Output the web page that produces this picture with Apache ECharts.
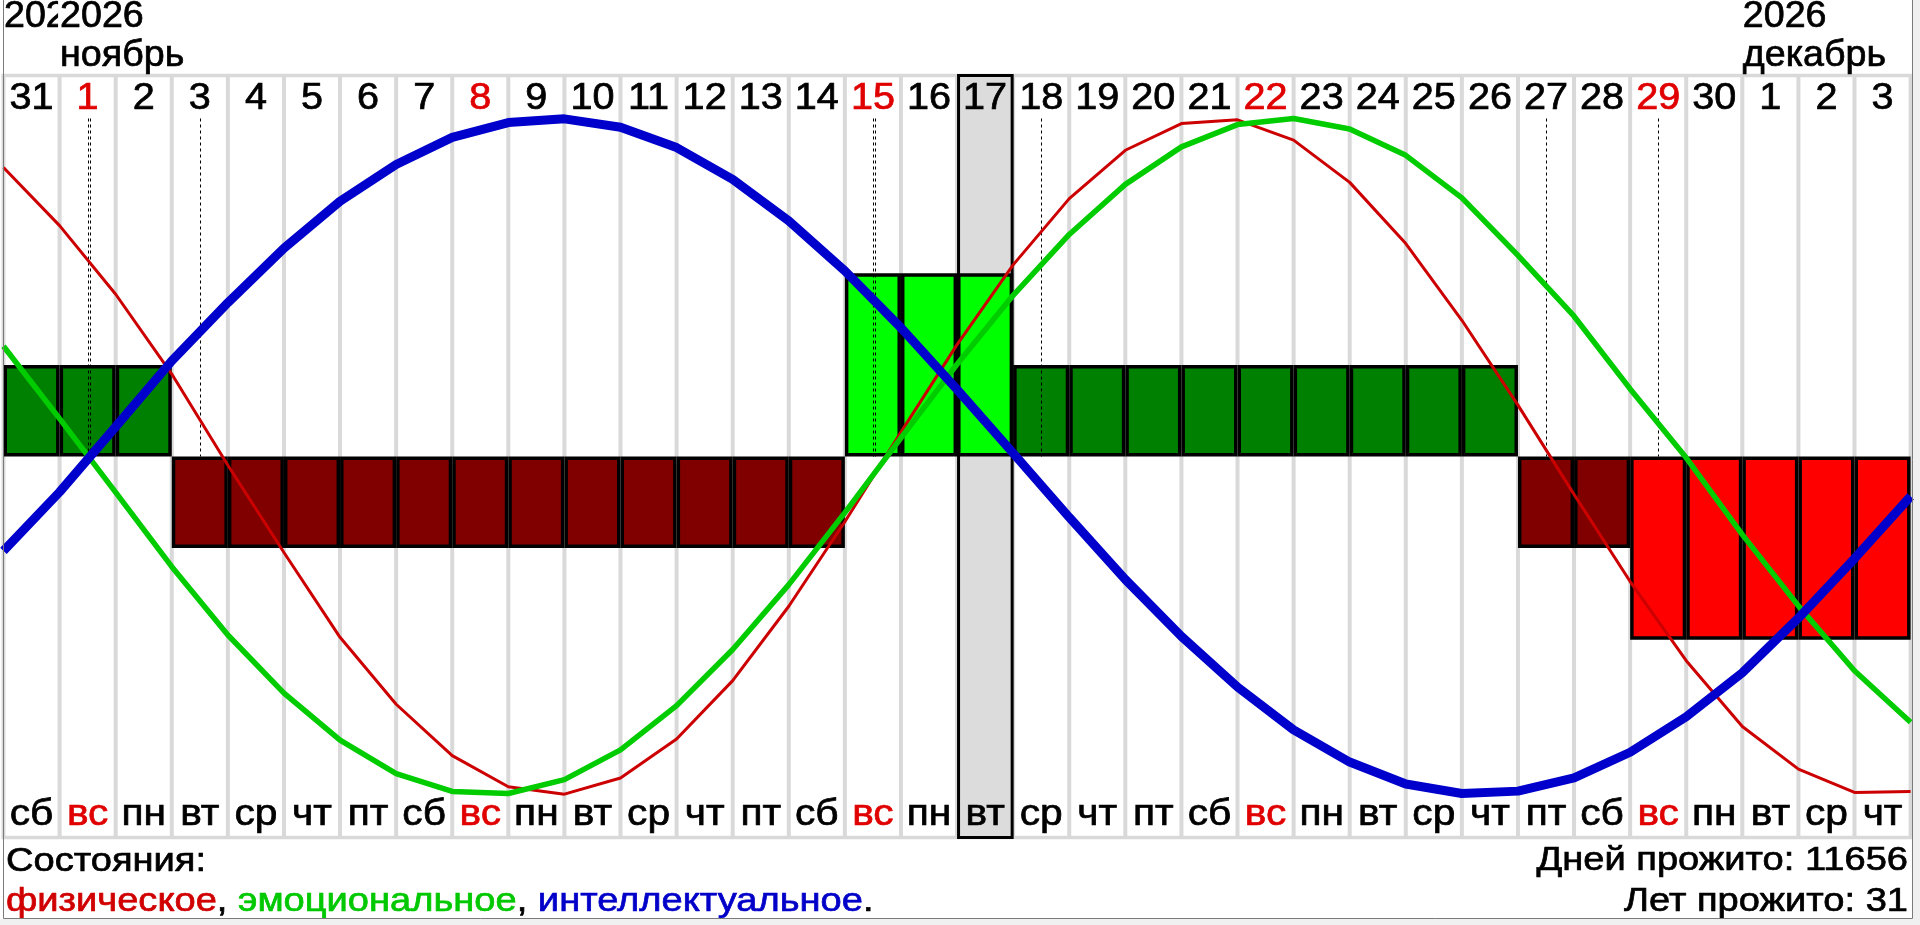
<!DOCTYPE html>
<html>
<head>
<meta charset="utf-8">
<script src="https://cdn.jsdelivr.net/npm/echarts@6/dist/echarts.min.js"></script>
<style>
html,body{margin:0;padding:0;background:#f0f0f0;overflow:hidden}
#c{width:1920px;height:925px}
</style>
</head>
<body>
<div id="c"></div>
<script>
// ---------- data ----------
const dayNumbers = ['31','1','2','3','4','5','6','7','8','9','10','11','12','13','14','15','16','17','18','19','20','21','22','23','24','25','26','27','28','29','30','1','2','3'];
const weekDays = ['сб','вс','пн','вт','ср','чт','пт','сб','вс','пн','вт','ср','чт','пт','сб','вс','пн','вт','ср','чт','пт','сб','вс','пн','вт','ср','чт','пт','сб','вс','пн','вт','ср','чт'];
// state level of each day (bars)
const states = [1,1,1,-1,-1,-1,-1,-1,-1,-1,-1,-1,-1,-1,-1,2,2,2,1,1,1,1,1,1,1,1,1,-1,-1,-2,-2,-2,-2,-2];
// curve values at day boundaries 0..34
const physical = [0.855,0.683,0.480,0.244,-0.026,-0.284,-0.535,-0.733,-0.885,-0.977,-0.999,-0.951,-0.836,-0.663,-0.443,-0.193,0.072,0.331,0.567,0.763,0.906,0.985,0.996,0.936,0.811,0.630,0.403,0.152,-0.112,-0.370,-0.604,-0.799,-0.925,-0.994,-0.991];
const emotional = [0.326,0.112,-0.106,-0.326,-0.528,-0.700,-0.839,-0.938,-0.991,-0.997,-0.956,-0.868,-0.737,-0.571,-0.379,-0.166,0.055,0.273,0.477,0.657,0.805,0.916,0.982,1.000,0.969,0.891,0.765,0.595,0.415,0.200,-0.004,-0.231,-0.442,-0.634,-0.786];
const intellectual = [-0.279,-0.105,0.088,0.283,0.455,0.616,0.755,0.864,0.944,0.988,0.999,0.974,0.914,0.820,0.697,0.549,0.381,0.198,0.010,-0.180,-0.364,-0.532,-0.682,-0.809,-0.904,-0.969,-0.997,-0.990,-0.951,-0.875,-0.770,-0.640,-0.478,-0.302,-0.118];
const criticalDays = [1,3,15,18,27,29];
const criticalCounts = [2,1,2,1,1,1];
const todayIndex = 17;
const headerCols = [0,1,31];
const headerYears = ['2026','2026','2026'];
const headerMonths = ['','ноябрь','декабрь'];
const legendTitle = 'Состояния:';
const rhythmNames = ['физическое','эмоциональное','интеллектуальное'];
const daysLived = 11656;
const yearsLived = 31;

// ---------- style / layout ----------
const FONT = '"Liberation Sans", Arial, sans-serif';
const N = dayNumbers.length;
const CURVE_EXT = 1.1272;
const BAR_EXT = 4.159;
const GRID_GRAY = '#d9d9d9';
const SUN_RED = '#e00000';
const LINE_COLORS = ['#cc0000','#00cc00','#0000cc'];
const TEXT_COLORS = ['#d00000','#00c800','#0000c8'];
const STATE_COLORS = {'2':'#00ff00','1':'#008000','-1':'#800000','-2':'#ff0000'};
const PANEL_W = 1913, PANEL_H = 919;
const F_NUM = 36, SX_NUM = 1.1;
const F_NAME = 37, SX_NAME = 1.1;
const F_HEAD = 36, SX_HEAD = 1.045;
const F_LEG = 34, SX_LEG = 1.12;
const TXT_STROKE = 0.7;

function txt(text, x, y, size, sx, color, align, z2) {
  return {
    type: 'text', x: x, y: y, scaleX: sx, z2: z2 || 10,
    style: {
      text: text, fill: color, stroke: color, lineWidth: TXT_STROKE,
      font: size + 'px ' + FONT,
      textAlign: align, align: align,
      textVerticalAlign: 'middle', verticalAlign: 'middle'
    }
  };
}

function renderColumn(params, api) {
  const i = api.value(0);
  const x0 = api.coord([i, 0])[0];
  const x1 = api.coord([i + 1, 0])[0];
  const yT = api.coord([0, CURVE_EXT])[1];
  const yB = api.coord([0, -CURVE_EXT])[1];
  const ch = [];
  ch.push({type:'line', shape:{x1:x0, y1:yT, x2:x0, y2:yB}, style:{stroke:GRID_GRAY, lineWidth:4}, z2:1});
  if (i === N - 1) {
    ch.push({type:'line', shape:{x1:x1, y1:yT, x2:x1, y2:yB}, style:{stroke:GRID_GRAY, lineWidth:4}, z2:1});
  }
  if (i === 0) {
    const xe = api.coord([N, 0])[0];
    ch.push({type:'line', shape:{x1:x0 - 2, y1:yT, x2:xe + 2, y2:yT}, style:{stroke:GRID_GRAY, lineWidth:3.5}, z2:2});
    ch.push({type:'line', shape:{x1:x0 - 2, y1:yB, x2:xe + 2, y2:yB}, style:{stroke:GRID_GRAY, lineWidth:3.5}, z2:2});
  }
  if (i === todayIndex) {
    ch.push({type:'rect', shape:{x:x0 + 1.5, y:yT, width:x1 - x0 - 2.5, height:yB - yT},
      style:{fill:'#dcdcdc', stroke:'#000', lineWidth:3}, z2:5});
  }
  const cx = (x0 + x1) / 2;
  const col = weekDays[i] === 'вс' ? SUN_RED : '#000';
  ch.push(txt(dayNumbers[i], cx, yT + 23.4, F_NUM, SX_NUM, col, 'center', 10));
  ch.push(txt(weekDays[i], cx, yB - 23, F_NAME, SX_NAME, col, 'center', 10));
  return {type:'group', children: ch};
}

function renderHeader(params, api) {
  const c = api.value(0), j = api.value(1);
  const x = api.coord([c, 0])[0];
  const yT = api.coord([0, CURVE_EXT])[1];
  const ch = [];
  if (j > 0) {
    ch.push({type:'rect', shape:{x:x - 1.5, y:0, width:Math.min(200, PANEL_W - x + 1.5), height:yT - 4},
      style:{fill:'#fff'}, z2: j * 10});
  }
  ch.push(txt(headerYears[j], x + 0.5, yT - 58.6, F_HEAD, SX_HEAD, '#000', 'left', j * 10 + 1));
  if (headerMonths[j]) ch.push(txt(headerMonths[j], x + 0.5, yT - 19.8, F_HEAD, SX_HEAD, '#000', 'left', j * 10 + 1));
  return {type:'group', children: ch};
}

function renderCritical(params, api) {
  const d = api.value(0), n = api.value(1);
  const cx = api.coord([d + 0.5, 0])[0];
  const yTop = api.coord([0, 1])[1];
  const y0 = api.coord([0, 0])[1];
  const ch = [];
  for (let m = 0; m < n; m++) {
    const x = Math.round(cx + 2 * m) + 0.5;
    ch.push({type:'line', shape:{x1:x, y1:yTop, x2:x, y2:y0},
      style:{stroke:'#000', lineWidth:1, lineDash:[3,3]}, z2:1});
  }
  return {type:'group', children: ch};
}

const LF = F_LEG + 'px ' + FONT;
function legendText(x, y, text, align, color) {
  return {type:'text', x:x, y:y, scaleX:SX_LEG, z:60, silent:true,
    style:{text:text, font:LF, fill:color, stroke:color, lineWidth:TXT_STROKE,
      textAlign:align, align:align, textVerticalAlign:'middle', verticalAlign:'middle'}};
}
// second legend line built from consecutive coloured parts
const measureCtx = document.createElement('canvas').getContext('2d');
measureCtx.font = LF;
const legendParts = [
  [rhythmNames[0], TEXT_COLORS[0]], [', ', '#000'],
  [rhythmNames[1], TEXT_COLORS[1]], [', ', '#000'],
  [rhythmNames[2], TEXT_COLORS[2]], ['.', '#000']
];
const legendLine2 = [];
let lx = 6;
legendParts.forEach(p => {
  legendLine2.push(legendText(lx, 902, p[0], 'left', p[1]));
  lx += measureCtx.measureText(p[0]).width * SX_LEG;
});

const chart = echarts.init(document.getElementById('c'), null, {renderer:'canvas'});
chart.setOption({
  animation: false,
  backgroundColor: '#f0f0f0',
  grid: {left: 3.5, right: 9.4, top: 75.5, bottom: 87.5, containLabel: false},
  xAxis: [
    {type:'category', data: dayNumbers, show:false, boundaryGap:true},
    {type:'value', min:0, max:N, show:false}
  ],
  yAxis: [
    {type:'value', min:-CURVE_EXT, max:CURVE_EXT, show:false},
    {type:'value', min:-BAR_EXT, max:BAR_EXT, show:false}
  ],
  graphic: {elements: [
    {type:'rect', shape:{x:0, y:0, width:PANEL_W, height:PANEL_H}, style:{fill:'#fff'}, z:-10, silent:true},
    {type:'polyline', shape:{points:[[3.5,0],[3.5,PANEL_H - 0.5],[PANEL_W - 0.5,PANEL_H - 0.5],[PANEL_W - 0.5,0]]},
      style:{stroke:'#7a7a7a', lineWidth:1, fill:null}, z:100, silent:true},
    legendText(6, 862, legendTitle, 'left', '#000'),
    legendText(1908, 861, 'Дней прожито: ' + daysLived, 'right', '#000'),
    legendText(1908, 902, 'Лет прожито: ' + yearsLived, 'right', '#000')
  ].concat(legendLine2)},
  series: [
    {type:'custom', name:'columns', xAxisIndex:1, yAxisIndex:0, clip:false, z:1, silent:true,
      renderItem: renderColumn, data: dayNumbers.map((d, i) => [i, 0])},
    {type:'custom', name:'header', xAxisIndex:1, yAxisIndex:0, clip:false, z:1, silent:true,
      renderItem: renderHeader, data: headerCols.map((c, j) => [c, j])},
    {type:'bar', name:'states', xAxisIndex:0, yAxisIndex:1, barWidth:'100%', z:3, silent:true,
      itemStyle:{borderColor:'#000', borderWidth:3.5},
      data: states.map(s => ({value:s, itemStyle:{color:STATE_COLORS[String(s)]}}))},
    {type:'custom', name:'critical', xAxisIndex:1, yAxisIndex:0, clip:false, z:4, silent:true,
      renderItem: renderCritical, data: criticalDays.map((d, j) => [d, criticalCounts[j]])},
    {type:'line', name:rhythmNames[0], xAxisIndex:1, yAxisIndex:0, z:5, symbol:'none', silent:true,
      lineStyle:{color:LINE_COLORS[0], width:3}, data: physical.map((v, k) => [k, v])},
    {type:'line', name:rhythmNames[1], xAxisIndex:1, yAxisIndex:0, z:6, symbol:'none', silent:true,
      lineStyle:{color:LINE_COLORS[1], width:5.5}, data: emotional.map((v, k) => [k, v])},
    {type:'line', name:rhythmNames[2], xAxisIndex:1, yAxisIndex:0, z:7, symbol:'none', silent:true,
      lineStyle:{color:LINE_COLORS[2], width:9}, data: intellectual.map((v, k) => [k, v])}
  ]
});
</script>
</body>
</html>
